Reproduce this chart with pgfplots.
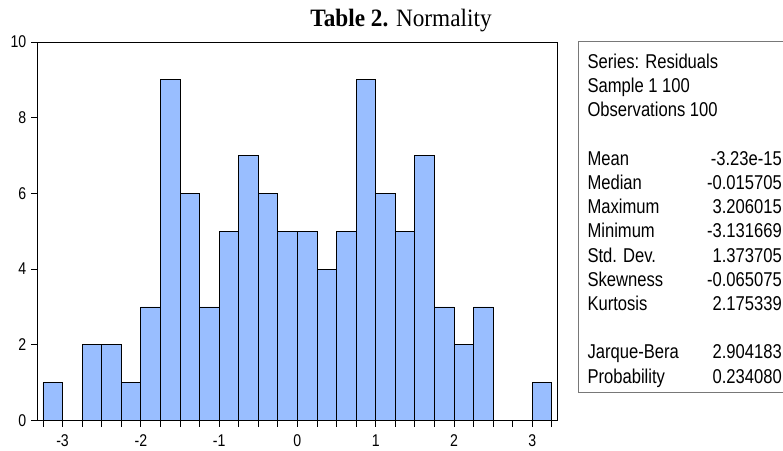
\documentclass[border=0pt]{standalone}
\usepackage{graphicx}
\usepackage{pgfplots}
\pgfplotsset{compat=1.18}
\usepackage{fontspec}
\setmainfont{Liberation Sans}
\newfontfamily\serif{Liberation Serif}
\definecolor{barblue}{RGB}{153,190,255}
\definecolor{boxgray}{RGB}{120,120,120}
\newcommand{\sq}[1]{\scalebox{0.83}[1]{#1}}
\newcommand{\statfont}{\fontsize{20}{24}\selectfont}
\newcommand{\statline}[3]{%
  \node[anchor=base west, inner sep=0pt, font=\statfont] at (587.3pt,-#1pt) {\sq{#2}};
  \node[anchor=base east, inner sep=0pt, font=\statfont] at (782pt,-#1pt) {\sq{#3}};}
\begin{document}
\begin{tikzpicture}
\path[use as bounding box] (0,0) rectangle (783pt,-450pt);
\begin{axis}[
  at={(37.5pt,-420.5pt)}, anchor=south west,
  scale only axis, width=519.8pt, height=378.5pt,
  xmin=-3.32, xmax=3.32, ymin=0, ymax=10,
  axis line style={line width=1pt},
  xtick pos=bottom, ytick pos=left, tick align=outside,
  major tick length=6pt, minor tick length=6pt,
  tick style={black, line width=0.9pt},
  xtick={-3,-2,-1,0,1,2,3},
  xticklabels={\sq{-3},\sq{-2},\sq{-1},\sq{0},\sq{1},\sq{2},\sq{3}},
  minor xtick={-3.25,-2.75,-2.5,-2.25,-1.75,-1.5,-1.25,-0.75,-0.5,-0.25,0.25,0.5,0.75,1.25,1.5,1.75,2.25,2.5,2.75,3.25},
  ytick={0,2,4,6,8,10},
  yticklabels={\sq{0},\sq{2},\sq{4},\sq{6},\sq{8},\sq{10}},
  ticklabel style={font=\fontsize{17}{17}\selectfont, inner sep=0pt},
  xticklabel style={yshift=-8pt},
  yticklabel style={xshift=-5pt},
]
\addplot[ybar interval, fill=barblue, draw=black, line width=0.8pt] coordinates {
(-3.25,1) (-3.0,0) (-2.75,2) (-2.5,2) (-2.25,1) (-2.0,3) (-1.75,9) (-1.5,6)
(-1.25,3) (-1.0,5) (-0.75,7) (-0.5,6) (-0.25,5) (0,5) (0.25,4) (0.5,5)
(0.75,9) (1.0,6) (1.25,5) (1.5,7) (1.75,3) (2.0,2) (2.25,3) (2.5,0)
(2.75,0) (3.0,1) (3.25,0)
};
\end{axis}
\node[anchor=base, inner sep=0pt] at (401pt,-26.7pt) {\scalebox{0.93}[1]{\fontsize{25}{25}\serif\selectfont\textbf{Table 2.} Normality}};
\draw[boxgray, line width=1pt] (784pt,-41.7pt) -- (578.3pt,-41.7pt) -- (578.3pt,-392.7pt) -- (784pt,-392.7pt);
\statline{68.5}{Series: Residuals}{}
\statline{92.7}{Sample 1 100}{}
\statline{116.9}{Observations 100}{}
\statline{165.3}{Mean}{-3.23e-15}
\statline{189.5}{Median}{-0.015705}
\statline{213.7}{Maximum}{3.206015}
\statline{237.9}{Minimum}{-3.131669}
\statline{262.1}{Std. Dev.}{1.373705}
\statline{286.3}{Skewness}{-0.065075}
\statline{310.5}{Kurtosis}{2.175339}
\statline{358.9}{Jarque-Bera}{2.904183}
\statline{383.1}{Probability}{0.234080}
\end{tikzpicture}
\end{document}
